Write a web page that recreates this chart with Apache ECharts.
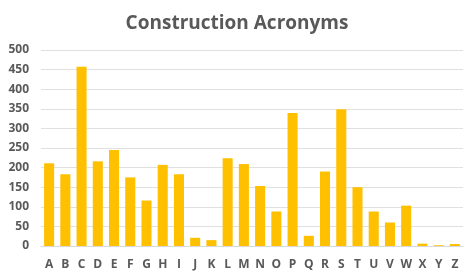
<!DOCTYPE html>
<html><head><meta charset="utf-8">
<script src="https://cdn.jsdelivr.net/npm/echarts@6/dist/echarts.min.js"></script>
<style>html,body{margin:0;padding:0;background:#fff}#c{width:474px;height:279px}</style>
</head><body><div id="c"></div>
<script>
const categories = ["A","B","C","D","E","F","G","H","I","J","K","L","M","N","O","P","Q","R","S","T","U","V","W","X","Y","Z"];
const values = [211,183,457,216,245,175,116,207,183,21,15,224,209,153,88,339,26,190,349,150,88,60,103,6,2,5];
const titleText = "Construction Acronyms";
const chart = echarts.init(document.getElementById('c'), null, {renderer:'canvas'});
chart.setOption({
  animation:false,
  title:{text:titleText,left:'center',top:9,textStyle:{fontFamily:'Open Sans',fontWeight:'bold',fontSize:19,color:'#595959'}},
  grid:{left:41,right:11,top:50,bottom:33},
  xAxis:{type:'category',data:categories,
    axisLine:{lineStyle:{color:'#d9d9d9'}},axisTick:{show:false},
    axisLabel:{interval:0,margin:13,fontFamily:'Open Sans',fontWeight:'bold',fontSize:12,color:'#595959'}},
  yAxis:{type:'value',min:0,max:500,interval:50,
    axisLine:{show:false},axisTick:{show:false},
    splitLine:{lineStyle:{color:'#e0e0e0'}},
    axisLabel:{margin:12,fontFamily:'Open Sans',fontWeight:'bold',fontSize:12,color:'#595959'}},
  series:[{type:'bar',data:values,barCategoryGap:'38%',itemStyle:{color:'#FFC000'}}]
});
</script></body></html>
